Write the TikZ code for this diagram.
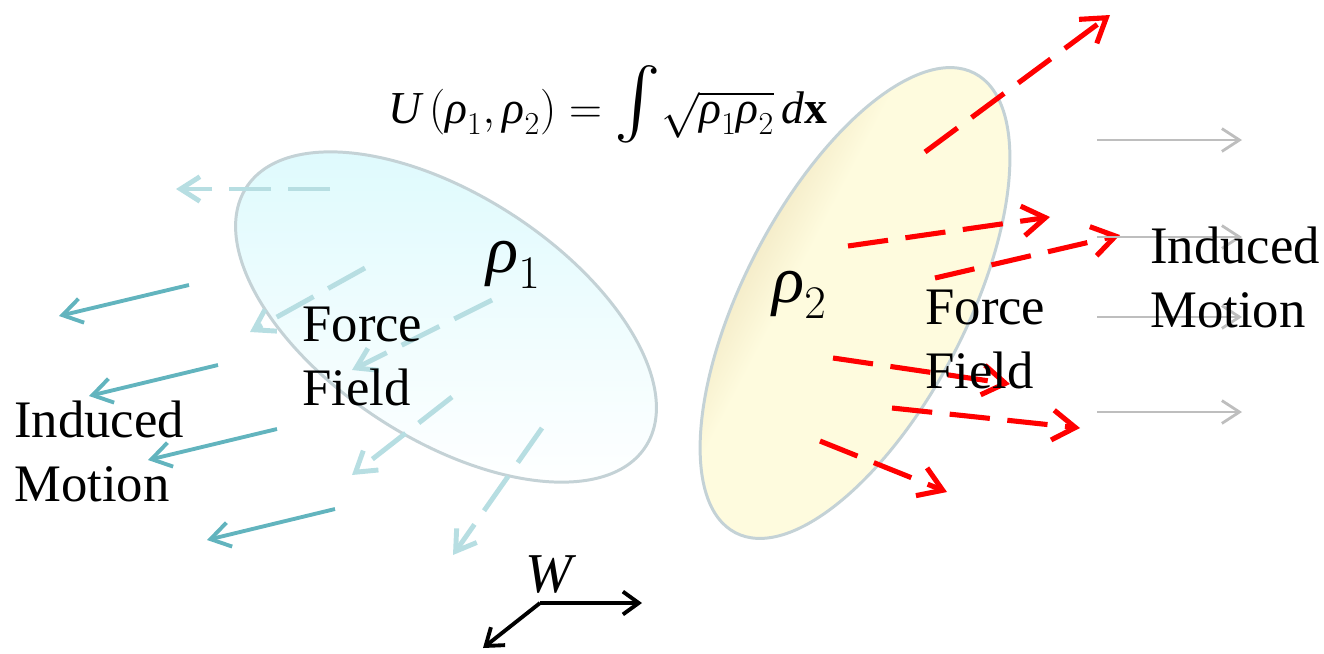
\RequirePackage{fix-cm}
\documentclass[tikz,border=0pt]{standalone}
\usepackage{exscale}
\usepackage{graphicx}
\usepackage{fontspec}
\setmainfont{Liberation Serif}
\usetikzlibrary{arrows.meta}
\definecolor{fieldcyan}{RGB}{183,222,226}
\definecolor{motioncyan}{RGB}{98,180,190}
\definecolor{motiongray}{RGB}{190,190,190}
\definecolor{blobedge}{RGB}{196,210,214}
\definecolor{blobcyan}{RGB}{222,250,253}
\definecolor{blobyellow}{RGB}{254,251,222}
\definecolor{blobtan}{RGB}{230,214,170}
\definecolor{fieldred}{RGB}{255,0,0}
\pgfdeclarehorizontalshading{yellowblob}{100bp}{color(0bp)=(blobtan); color(27bp)=(blobtan);
  color(42bp)=(blobyellow); color(100bp)=(blobyellow)}
\newcommand{\rh}{\textit{ρ}}

\begin{document}
\begin{tikzpicture}[x=0.02cm, y=-0.02cm,
  label/.style={font=\fontsize{30}{36}\selectfont, align=left, inner sep=0pt},
  dens/.style={font=\fontsize{38}{42}\selectfont, inner sep=0pt},
  blob/.style={draw=blobedge, line width=1.7pt}]
\useasboundingbox (0,0) rectangle (1324,653);
% the two densities
\draw[blob, rotate around={-33:(446,317)}, top color=blobcyan, bottom color=white]
  (446,317) ellipse [x radius=238, y radius=122];
\draw[blob, rotate around={62.5:(855,303)}, shading=yellowblob, shading angle=-27.5]
  (855,303) ellipse [x radius=259, y radius=111];
% force field of rho_1 (dashed)
\foreach \xa/\ya/\xb/\yb in {330/189/176/189, 365/268/250/332, 492/300/352/370,
    452/397/352/475, 542/428/453/555}
  \draw[fieldcyan, line width=2.8pt, dash pattern=on 24pt off 9.5pt,
    -{Straight Barb[length=11pt,width=14pt]}] (\xa,\ya) -- (\xb,\yb);
% induced motion of rho_1
\foreach \xa/\ya/\xb/\yb in {189/285/59/316, 218/365/89/396, 277/429/148/460, 335/509/207/540}
  \draw[motioncyan, line width=2.2pt, -{Straight Barb[length=11pt,width=14pt]}] (\xa,\ya) -- (\xb,\yb);
% force field of rho_2 (dashed)
\foreach \xa/\ya/\xb/\yb in {925/152/1110/15, 848/246/1050/217, 935/278/1120/235,
    833/358/1010/384, 892/408/1080/428, 820/441/947/492}
  \draw[fieldred, line width=2.9pt, dash pattern=on 23pt off 10pt,
    -{Straight Barb[length=13pt,width=17pt]}] (\xa,\ya) -- (\xb,\yb);
% induced motion of rho_2
\foreach \yy in {140, 237, 317, 412}
  \draw[motiongray, line width=1.6pt, -{Straight Barb[length=10pt,width=13pt]}] (1097,\yy) -- (1242,\yy);
% labels
\node[font=\fontsize{26}{30}\selectfont, anchor=base, inner sep=0pt] (overlap) at (608,123)
  {$\textit{U}\,(\rh_1,\rh_2) = \scalebox{1.6}{$\int$}\sqrt{\rh_1\rh_2}\,\textit{d}\textbf{x}$};
\node[dens, anchor=base west] (rho1) at (486,272) {$\rh_1$};
\node[dens, anchor=base west] (rho2) at (772,302) {$\rh_2$};
\node[label, anchor=north west] (force1) at (302,307) {Force\\Field};
\node[label, anchor=north west] (motion1) at (14,401) {Induced\\Motion};
\node[label, anchor=north west] (force2) at (925,290) {Force\\Field};
\node[label, anchor=north west] (motion2) at (1150,227) {Induced\\Motion};
% W frame
\coordinate (worig) at (540,603);
\coordinate (wx) at (642,603);
\coordinate (wy) at (483,648);
\draw[line width=2.2pt, -{Straight Barb[length=9pt,width=13pt]}] (worig) -- (wx);
\draw[line width=2.2pt, -{Straight Barb[length=9pt,width=13pt]}] (worig) -- (wy);
\node[font=\fontsize{32}{36}\selectfont, anchor=base, inner sep=0pt] (wlab) at (551,592) {\textit{W}};
\end{tikzpicture}
\end{document}
